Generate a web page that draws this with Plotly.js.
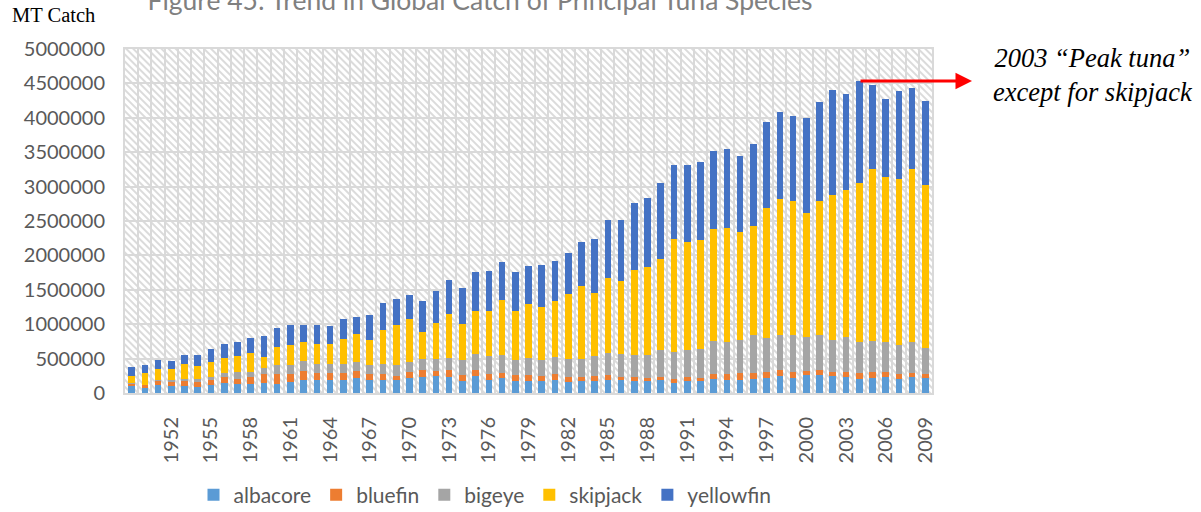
<!DOCTYPE html>
<html>
<head>
<meta charset="utf-8">
<script src="https://cdn.plot.ly/plotly-3.0.1.min.js"></script>
<style>html,body{margin:0;padding:0;background:#fff;}#chart{width:1201px;height:512px;}</style>
</head>
<body>
<div id="chart"></div>
<script>
const years = [1949,1950,1951,1952,1953,1954,1955,1956,1957,1958,1959,1960,1961,1962,1963,1964,1965,1966,1967,1968,1969,1970,1971,1972,1973,1974,1975,1976,1977,1978,1979,1980,1981,1982,1983,1984,1985,1986,1987,1988,1989,1990,1991,1992,1993,1994,1995,1996,1997,1998,1999,2000,2001,2002,2003,2004,2005,2006,2007,2008,2009];
const tickYears = [1952,1955,1958,1961,1964,1967,1970,1973,1976,1979,1982,1985,1988,1991,1994,1997,2000,2003,2006,2009];
const tickLabels = ["1952","1955","1958","1961","1964","1967","1970","1973","1976","1979","1982","1985","1988","1991","1994","1997","2000","2003","2006","2009"];

const albacore = [107000,80000,117000,107000,107000,87000,117000,146000,136000,136000,150000,136000,165000,184000,184000,194000,184000,214000,184000,194000,184000,223000,233000,243000,233000,175000,243000,184000,218000,175000,175000,175000,194000,160000,170000,175000,194000,184000,175000,175000,194000,150000,175000,175000,199000,184000,194000,209000,223000,248000,223000,257000,257000,248000,233000,209000,223000,233000,199000,233000,223000];
const bluefin = [20000,30000,58000,58000,68000,73000,78000,87000,68000,97000,131000,146000,117000,131000,112000,102000,112000,107000,97000,87000,63000,83000,97000,78000,97000,83000,87000,97000,73000,83000,83000,73000,87000,73000,63000,68000,63000,49000,58000,44000,39000,58000,58000,49000,83000,97000,97000,83000,83000,83000,83000,63000,73000,58000,73000,83000,83000,73000,78000,58000,58000];
const bigeye = [20000,5000,20000,30000,34000,39000,39000,63000,102000,73000,83000,121000,121000,150000,131000,121000,121000,131000,121000,146000,155000,146000,160000,180000,184000,218000,233000,252000,257000,228000,252000,238000,243000,257000,257000,296000,325000,330000,325000,330000,388000,388000,398000,413000,476000,461000,485000,558000,495000,515000,534000,495000,510000,471000,510000,451000,456000,437000,417000,447000,379000];
const skipjack = [100000,180000,150000,150000,209000,194000,218000,214000,228000,277000,160000,267000,291000,277000,291000,301000,374000,403000,364000,495000,583000,626000,398000,510000,631000,534000,626000,655000,801000,704000,777000,767000,816000,942000,1063000,908000,1092000,1068000,1228000,1277000,1320000,1636000,1568000,1587000,1626000,1660000,1563000,1583000,1893000,1971000,1947000,1806000,1951000,2102000,2136000,2306000,2495000,2393000,2422000,2519000,2369000];
const yellowfin = [130000,110000,130000,120000,131000,165000,194000,199000,204000,218000,301000,282000,291000,243000,277000,257000,291000,252000,364000,393000,379000,345000,447000,476000,495000,510000,563000,587000,549000,563000,558000,607000,578000,607000,646000,786000,840000,883000,971000,1005000,1107000,1083000,1117000,1136000,1136000,1146000,1112000,1184000,1252000,1262000,1243000,1369000,1442000,1529000,1388000,1485000,1218000,1131000,1277000,1175000,1218000];

const seriesNames = ["albacore","bluefin","bigeye","skipjack","yellowfin"];
const seriesValues = [albacore, bluefin, bigeye, skipjack, yellowfin];
const seriesColors = ["#5B9BD5","#ED7D31","#A5A5A5","#FFC000","#4472C4"];

const traces = seriesNames.map((n,i)=>({
  type:'bar', name:n, x:years, y:seriesValues[i],
  marker:{color:seriesColors[i], line:{width:0}},
  hoverinfo:'skip'
}));

const hatch = "<svg xmlns='http://www.w3.org/2000/svg' width='807' height='344'><defs><pattern id='p' width='5' height='5' patternUnits='userSpaceOnUse' patternTransform='rotate(-45)'><rect width='5' height='5' fill='#ffffff'/><line x1='1' y1='0' x2='1' y2='5' stroke='#d2d2d2' stroke-width='1.6'/></pattern></defs><rect width='100%' height='100%' fill='url(#p)'/></svg>";
const hatchURI = "data:image/svg+xml;charset=utf-8," + encodeURIComponent(hatch);

const gray = '#595959';
const layout = {
  width:1201, height:512,
  margin:{l:125, r:269, t:49, b:119, autoexpand:false},
  paper_bgcolor:'#ffffff', plot_bgcolor:'rgba(0,0,0,0)',
  barmode:'stack', bargap:0.5,
  showlegend:true,
  font:{family:'Lato, sans-serif', color:gray},
  title:{text:'Figure 45: Trend in Global Catch of Principal Tuna Species',
    font:{family:'Lato, sans-serif', size:26.5, color:'#808080'},
    x:480/1201, xanchor:'center', xref:'container', y:0.998, yanchor:'middle', yref:'container'},
  xaxis:{type:'linear', range:[1948.5,2009.5], tickmode:'array', tickvals:tickYears, ticktext:tickLabels,
    tickangle:-90, ticks:'', ticklabelstandoff:14, tickfont:{size:20, color:gray}, automargin:false,
    showgrid:false, zeroline:false, showline:true, mirror:true, linecolor:'#d9d9d9', linewidth:2,
    minor:{tick0:1948.5, dtick:1, showgrid:true, gridcolor:'#d9d9d9', gridwidth:2, ticks:''}},
  yaxis:{range:[0,5000000], dtick:500000, tickformat:'d', ticks:'', ticklabelstandoff:14, automargin:false,
    tickfont:{size:20, color:gray}, showgrid:true, gridcolor:'#d9d9d9', gridwidth:2,
    zeroline:false, showline:true, mirror:true, linecolor:'#d9d9d9', linewidth:2},
  legend:{orientation:'h', x:(485-125)/807, xanchor:'center', y:(393-495)/344, yanchor:'middle',
    traceorder:'normal', font:{size:21, color:gray}, bgcolor:'rgba(0,0,0,0)'},
  images:[{source:hatchURI, xref:'paper', yref:'paper', x:0, y:1, sizex:1, sizey:1,
    sizing:'stretch', xanchor:'left', yanchor:'top', layer:'below'}],
  annotations:[
    {text:'MT Catch', xref:'paper', yref:'paper', x:(10-125)/807, y:(393-15)/344, xanchor:'left', yanchor:'middle',
      showarrow:false, font:{family:'Liberation Serif, Times New Roman, serif', size:20.5, color:'#000000'}},
    {text:'<i>2003 “Peak tuna”<br>except for skipjack</i>', xref:'paper', yref:'paper',
      x:(1093-125)/807, y:(393-75)/344, xanchor:'center', yanchor:'middle', align:'center',
      showarrow:false, font:{family:'Liberation Serif, Times New Roman, serif', size:26.5, color:'#000000'}},
    {text:'', xref:'paper', yref:'paper', x:(972-125)/807, y:(393-81)/344, ax:-113, ay:0,
      showarrow:true, arrowhead:2, arrowsize:1.1, arrowwidth:3, arrowcolor:'#ff0000'}
  ]
};

Plotly.newPlot('chart', traces, layout, {displayModeBar:false, staticPlot:true});
</script>
</body>
</html>
